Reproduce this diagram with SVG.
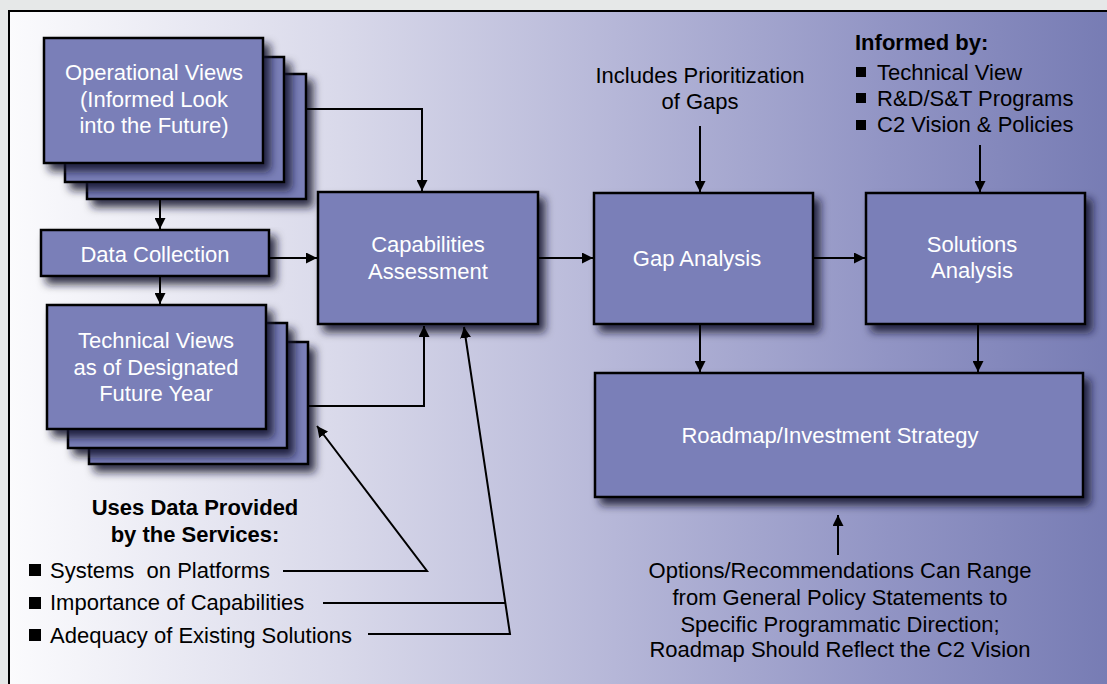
<svg xmlns="http://www.w3.org/2000/svg" width="1107" height="684" viewBox="0 0 1107 684">
<defs>
<linearGradient id="bg" x1="0" y1="0" x2="1" y2="0">
<stop offset="0" stop-color="#fbfbfd"/>
<stop offset="0.3" stop-color="#d9d9ea"/>
<stop offset="0.55" stop-color="#b6b7d8"/>
<stop offset="0.8" stop-color="#9194c4"/>
<stop offset="1" stop-color="#777cb4"/>
</linearGradient>
<filter id="sh" x="-20%" y="-20%" width="150%" height="160%">
<feGaussianBlur in="SourceAlpha" stdDeviation="4.5"/>
<feOffset dx="6" dy="7" result="b"/>
<feFlood flood-color="#14142a" flood-opacity="0.85"/>
<feComposite in2="b" operator="in"/>
<feMerge><feMergeNode/><feMergeNode in="SourceGraphic"/></feMerge>
</filter>
<marker id="ah" viewBox="0 0 10 10" refX="10" refY="5" markerWidth="5.5" markerHeight="5.5" orient="auto" markerUnits="strokeWidth">
<path d="M0,0 L10,5 L0,10 z" fill="#000"/>
</marker>
</defs>
<style>
.box{fill:#7a7fb8;stroke:#000;stroke-width:2.5}
.bt{font-family:"Liberation Sans",Arial,sans-serif;font-size:22px;fill:#fff;text-anchor:middle}
.t{font-family:"Liberation Sans",Arial,sans-serif;font-size:22px;fill:#000}
.tc{text-anchor:middle}
.b{font-weight:bold}
.c{fill:none;stroke:#000;stroke-width:2}
.a{marker-end:url(#ah)}
</style>
<rect x="0" y="0" width="1107" height="684" fill="#e6e8e8"/>
<rect x="9" y="11" width="1100" height="680" fill="url(#bg)" stroke="#000" stroke-width="2"/>

<g id="operational-views">
<rect class="box" x="87" y="74" width="219" height="125" filter="url(#sh)"/>
<rect class="box" x="65" y="57" width="219" height="125" filter="url(#sh)"/>
<rect class="box" x="44" y="38" width="219" height="125" filter="url(#sh)"/>
<text class="bt" x="154" y="80">Operational Views</text>
<text class="bt" x="154" y="107">(Informed Look</text>
<text class="bt" x="154" y="133">into the Future)</text>
</g>

<g id="data-collection">
<rect class="box" x="41" y="230" width="228" height="46" filter="url(#sh)"/>
<text class="bt" x="155" y="262">Data Collection</text>
</g>

<g id="technical-views">
<rect class="box" x="89" y="342" width="219" height="122" filter="url(#sh)"/>
<rect class="box" x="68" y="323" width="219" height="125" filter="url(#sh)"/>
<rect class="box" x="47" y="305" width="219" height="124" filter="url(#sh)"/>
<text class="bt" x="156" y="348">Technical Views</text>
<text class="bt" x="156" y="375">as of Designated</text>
<text class="bt" x="156" y="401">Future Year</text>
</g>

<g id="capabilities-assessment">
<rect class="box" x="318" y="192" width="220" height="132" filter="url(#sh)"/>
<text class="bt" x="428" y="252">Capabilities</text>
<text class="bt" x="428" y="279">Assessment</text>
</g>

<g id="gap-analysis">
<rect class="box" x="594" y="193" width="219" height="131" filter="url(#sh)"/>
<text class="bt" x="697" y="266">Gap Analysis</text>
</g>

<g id="solutions-analysis">
<rect class="box" x="866" y="193" width="219" height="131" filter="url(#sh)"/>
<text class="bt" x="972" y="252">Solutions</text>
<text class="bt" x="972" y="278">Analysis</text>
</g>

<g id="roadmap">
<rect class="box" x="595" y="373" width="488" height="124" filter="url(#sh)"/>
<text class="bt" x="830" y="443">Roadmap/Investment Strategy</text>
</g>

<g id="services-note">
<text class="t tc b" x="195" y="515">Uses Data Provided</text>
<text class="t tc b" x="195" y="542">by the Services:</text>
<rect x="29" y="564" width="12" height="12"/>
<rect x="29" y="597" width="12" height="12"/>
<rect x="29" y="629" width="12" height="12"/>
<text class="t" x="50" y="578" xml:space="preserve">Systems  on Platforms</text>
<text class="t" x="50" y="610">Importance of Capabilities</text>
<text class="t" x="50" y="643">Adequacy of Existing Solutions</text>
</g>

<g id="gaps-note">
<text class="t tc" x="700" y="83">Includes Prioritization</text>
<text class="t tc" x="700" y="109">of Gaps</text>
</g>

<g id="informed-note">
<text class="t b" x="855" y="50">Informed by:</text>
<rect x="856" y="67" width="10" height="10"/>
<rect x="856" y="93" width="10" height="10"/>
<rect x="856" y="120" width="10" height="10"/>
<text class="t" x="877" y="80">Technical View</text>
<text class="t" x="877" y="106">R&amp;D/S&amp;T Programs</text>
<text class="t" x="877" y="132">C2 Vision &amp; Policies</text>
</g>

<g id="options-note">
<text class="t tc" x="840" y="578">Options/Recommendations Can Range</text>
<text class="t tc" x="840" y="605">from General Policy Statements to</text>
<text class="t tc" x="840" y="632">Specific Programmatic Direction;</text>
<text class="t tc" x="840" y="657">Roadmap Should Reflect the C2 Vision</text>
</g>

<g id="connectors">
<path class="c a" d="M306,109 H422 V191"/>
<path class="c a" d="M160,199 V229"/>
<path class="c a" d="M160,276 V304"/>
<path class="c a" d="M269,258 H317"/>
<path class="c a" d="M308,406 H424 V326"/>
<path class="c a" d="M538,258 H593"/>
<path class="c a" d="M813,258 H865"/>
<path class="c a" d="M700,126 V192"/>
<path class="c a" d="M980,145 V192"/>
<path class="c a" d="M700,324 V372"/>
<path class="c a" d="M978,324 V372"/>
<path class="c a" d="M838,555 V515"/>
<path class="c a" d="M283,571 H427 L317,426"/>
<path class="c" d="M323,603 H505"/>
<path class="c a" d="M368,634 H510 L464,327"/>
</g>
</svg>
